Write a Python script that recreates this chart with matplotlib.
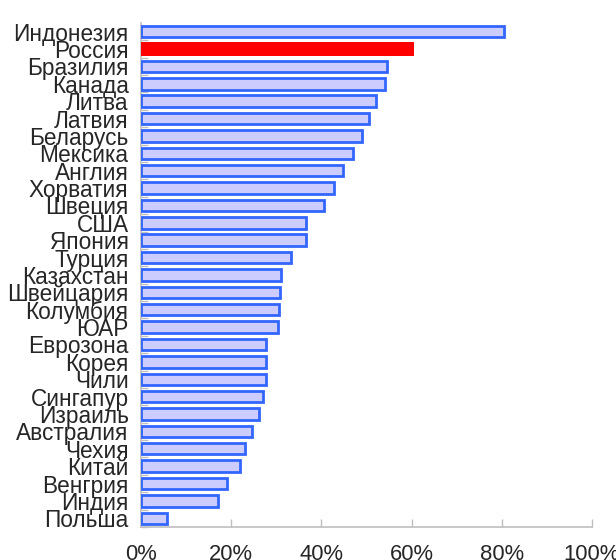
import matplotlib.pyplot as plt
from matplotlib.ticker import FixedLocator, PercentFormatter

plt.rcParams['font.family'] = ['Liberation Sans', 'DejaVu Sans']

countries = ["Индонезия", "Россия", "Бразилия", "Канада", "Литва", "Латвия",
             "Беларусь", "Мексика", "Англия", "Хорватия", "Швеция", "США",
             "Япония", "Турция", "Казахстан", "Швейцария", "Колумбия", "ЮАР",
             "Еврозона", "Корея", "Чили", "Сингапур", "Израиль", "Австралия",
             "Чехия", "Китай", "Венгрия", "Индия", "Польша"]
values = [80.5, 60.6, 54.5, 54.2, 52.1, 50.5, 49.1, 47.1, 44.8, 42.8, 40.5,
          36.5, 36.5, 33.3, 31.1, 30.8, 30.5, 30.3, 27.7, 27.7, 27.7, 27.1,
          26.2, 24.6, 23.1, 22.0, 19.1, 17.1, 5.7]
highlight = "Россия"
x_ticks = [0, 20, 40, 60, 80, 100]

fig = plt.figure(figsize=(6.16, 5.6), dpi=100)
ax = fig.add_axes([0.229, 0.059, 0.732, 0.9])

pos = list(range(len(countries)))
for i, (c, v) in enumerate(zip(countries, values)):
    if c == highlight:
        ax.barh(i, v, height=0.78, color="#FF0000", edgecolor="none", zorder=3)
    else:
        ax.barh(i, v, height=0.66, color="#CCCCFF", edgecolor="#3366FF",
                linewidth=2.0, zorder=3)

ax.set_ylim(len(countries) - 0.5, -0.5)
ax.set_xlim(0, 100)
ax.set_yticks(pos)
ax.set_yticklabels(countries)
ax.yaxis.set_minor_locator(FixedLocator([p + 0.5 for p in pos]))
ax.set_xticks(x_ticks)
ax.xaxis.set_major_formatter(PercentFormatter(decimals=0))

for s in ["top", "right"]:
    ax.spines[s].set_visible(False)
for s in ["left", "bottom"]:
    ax.spines[s].set_color("#BFBFBF")
    ax.spines[s].set_linewidth(1.2)

ax.tick_params(axis="y", which="major", length=0, pad=9, labelsize=16.3,
               labelcolor="#262626")
ax.tick_params(axis="y", which="minor", direction="in", length=5,
               color="#BFBFBF", width=1)
ax.tick_params(axis="x", direction="in", length=6, color="#BFBFBF", width=1,
               pad=12, labelsize=15.8, labelcolor="#262626")

fig.savefig("out.png", dpi=100)
